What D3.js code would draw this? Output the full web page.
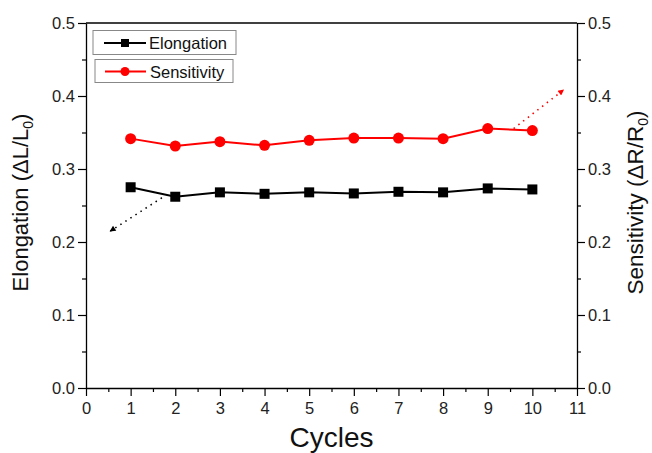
<!DOCTYPE html>
<html><head><meta charset="utf-8">
<script src="https://cdn.jsdelivr.net/npm/d3@7"></script>
<style>body{margin:0;background:#fff}svg{display:block}text{font-family:Arial,"Liberation Sans",sans-serif}</style>
</head><body><svg id="c" width="652" height="453"></svg>
<script>
const cycles = [1,2,3,4,5,6,7,8,9,10];
const elongation = [0.275,0.262,0.268,0.266,0.268,0.2665,0.2688,0.268,0.2734,0.272];
const sensitivity = [0.3416,0.3315,0.3375,0.3324,0.3393,0.3424,0.3424,0.3416,0.3554,0.3526];
const xTicks = [0,1,2,3,4,5,6,7,8,9,10,11];
const yTicks = [0.0,0.1,0.2,0.3,0.4,0.5];
const arrowElong = [[1.70,0.2606],[0.54,0.2147]];
const arrowSens = [[9.58,0.3554],[10.70,0.4084]];

const W=652,H=453,m={l:86,r:75,t:23,b:65};
const svg=d3.select("#c");
const x=d3.scaleLinear().domain([0,11]).range([m.l,W-m.r]);
const yL=d3.scaleLinear().domain([0,0.5]).range([H-m.b,m.t]);
const yR=d3.scaleLinear().domain([0,0.5]).range([H-m.b,m.t]);

svg.append("line").attr("x1",x(0)).attr("x2",x(11)).attr("y1",yL(0.5)).attr("y2",yL(0.5)).attr("stroke","#000").attr("stroke-width",1.3);

const fmt=d3.format(".1f");
const minorX=d3.range(0.5,11,1), minorY=d3.range(0.05,0.5,0.1);
const gx=svg.append("g").attr("transform",`translate(0,${H-m.b})`)
  .call(d3.axisBottom(x).tickValues(xTicks).tickFormat(d3.format("d")).tickSize(8).tickSizeOuter(0));
gx.append("g").call(d3.axisBottom(x).tickValues(minorX).tickFormat("").tickSize(4).tickSizeOuter(0)).select(".domain").remove();
const gl=svg.append("g").attr("transform",`translate(${m.l},0)`)
  .call(d3.axisLeft(yL).tickValues(yTicks).tickFormat(fmt).tickSize(8).tickSizeOuter(0));
gl.append("g").call(d3.axisLeft(yL).tickValues(minorY).tickFormat("").tickSize(4).tickSizeOuter(0)).select(".domain").remove();
const gr=svg.append("g").attr("transform",`translate(${W-m.r},0)`)
  .call(d3.axisRight(yR).tickValues(yTicks).tickFormat(fmt).tickSize(8).tickSizeOuter(0));
gr.append("g").call(d3.axisRight(yR).tickValues(minorY).tickFormat("").tickSize(4).tickSizeOuter(0)).select(".domain").remove();
svg.selectAll(".domain").attr("stroke-width",1.3);
svg.selectAll(".tick line").attr("stroke-width",1.2);
svg.selectAll(".tick text").attr("font-size",16.5).attr("font-family",'Arial,"Liberation Sans",sans-serif').attr("fill","#222");
gx.selectAll(".tick text").attr("dy","0.9em");

svg.append("text").attr("x",(x(0)+x(11))/2).attr("y",447).attr("text-anchor","middle").attr("font-size",28).attr("fill","#111").text("Cycles");
const tl=svg.append("text").attr("transform",`translate(28,${(yL(0)+yL(0.5))/2-3}) rotate(-90)`).attr("text-anchor","middle").attr("font-size",22).attr("fill","#111");
tl.append("tspan").text("Elongation (\u0394L/L");
tl.append("tspan").attr("font-size",14).attr("dy",5).text("0");
tl.append("tspan").attr("dy",-5).text(")");
const tr=svg.append("text").attr("transform",`translate(643,${(yL(0)+yL(0.5))/2-3}) rotate(-90)`).attr("text-anchor","middle").attr("font-size",22.5).attr("fill","#111");
tr.append("tspan").text("Sensitivity (\u0394R/R");
tr.append("tspan").attr("font-size",14).attr("dy",5).text("0");
tr.append("tspan").attr("dy",-5).text(")");

const defs=svg.append("defs");
function marker(id,color){defs.append("marker").attr("id",id).attr("viewBox","0 0 10 10").attr("refX",9).attr("refY",5)
  .attr("markerWidth",8).attr("markerHeight",6).attr("markerUnits","userSpaceOnUse").attr("orient","auto")
  .append("path").attr("d","M0,0L10,5L0,10Z").attr("fill",color);}
marker("ab","#000");marker("ar","#f00");
function arrow(pts,y,color,id){svg.append("line").attr("x1",x(pts[0][0])).attr("y1",y(pts[0][1])).attr("x2",x(pts[1][0])).attr("y2",y(pts[1][1]))
  .attr("stroke",color).attr("stroke-width",1.6).attr("stroke-dasharray","1.5,4.5").attr("marker-end",`url(#${id})`);}
arrow(arrowElong,yL,"#000","ab");
arrow(arrowSens,yR,"#f00","ar");

const lineE=d3.line().x((d,i)=>x(cycles[i])).y(d=>yL(d));
const lineS=d3.line().x((d,i)=>x(cycles[i])).y(d=>yR(d));
svg.append("path").attr("d",lineE(elongation)).attr("fill","none").attr("stroke","#000").attr("stroke-width",2);
svg.selectAll(".sq").data(elongation).enter().append("rect").attr("x",(d,i)=>x(cycles[i])-5).attr("y",d=>yL(d)-5).attr("width",10).attr("height",10).attr("fill","#000");
svg.append("path").attr("d",lineS(sensitivity)).attr("fill","none").attr("stroke","#f00").attr("stroke-width",2);
svg.selectAll(".ci").data(sensitivity).enter().append("circle").attr("cx",(d,i)=>x(cycles[i])).attr("cy",d=>yR(d)).attr("r",5.5).attr("fill","#f00");

const lg=svg.append("g");
lg.append("rect").attr("x",93).attr("y",30.5).attr("width",143).attr("height",24).attr("fill","#fff").attr("stroke","#888").attr("stroke-width",1);
lg.append("rect").attr("x",95).attr("y",59.5).attr("width",138).attr("height",23).attr("fill","#fff").attr("stroke","#888").attr("stroke-width",1);
lg.append("line").attr("x1",104).attr("x2",146).attr("y1",43).attr("y2",43).attr("stroke","#000").attr("stroke-width",1.8);
lg.append("rect").attr("x",121).attr("y",39).attr("width",8).attr("height",8).attr("fill","#000");
lg.append("text").attr("x",149).attr("y",49).attr("font-size",16.5).attr("fill","#111").text("Elongation");
lg.append("line").attr("x1",105).attr("x2",146).attr("y1",71.5).attr("y2",71.5).attr("stroke","#f00").attr("stroke-width",1.8);
lg.append("circle").attr("cx",125).attr("cy",71.5).attr("r",4.5).attr("fill","#f00");
lg.append("text").attr("x",150).attr("y",78).attr("font-size",16.5).attr("fill","#111").text("Sensitivity");
</script></body></html>
